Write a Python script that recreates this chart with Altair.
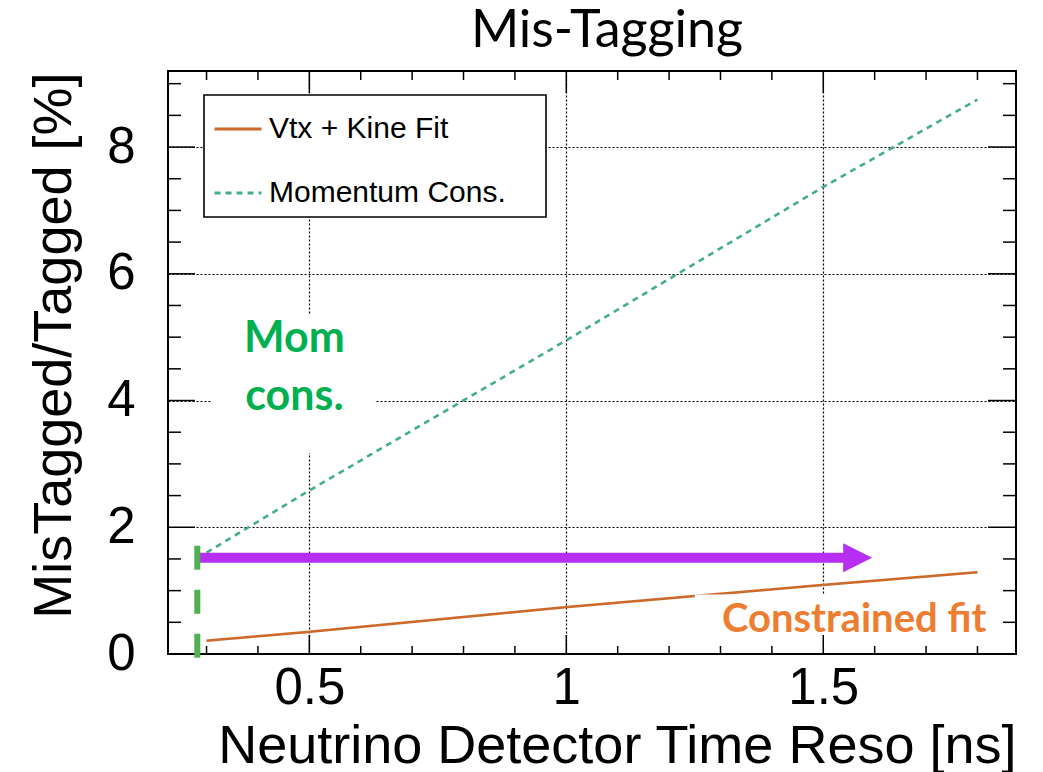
import altair as alt
import pandas as pd

# ---------------- data ----------------
reso_ns = [0.3, 0.5, 1.0, 1.5, 1.8]
vtx_kine_fit = [0.21, 0.35, 0.74, 1.09, 1.29]
momentum_cons = [1.60, 2.58, 4.95, 7.37, 8.75]
series_names = ["Vtx + Kine Fit", "Momentum Cons."]
chart_title = ["Mis-Tagging"]

x_major = [0.5, 1.0, 1.5]
x_minor = [0.3, 0.4, 0.6, 0.7, 0.8, 0.9, 1.1, 1.2, 1.3, 1.4, 1.6, 1.7, 1.8]
y_major = [0, 2, 4, 6, 8]
y_minor = [0.5, 1, 1.5, 2.5, 3, 3.5, 4.5, 5, 5.5, 6.5, 7, 7.5, 8.5, 9]

# annotations (data coordinates)
mom_text = ["Mom", "cons."]
mom_text_x = [0.471, 0.471]
mom_text_y = [4.77, 3.85]
fit_text = ["Constrained fit"]
fit_text_x = [1.56]
fit_text_y = [0.35]
box_x1 = [0.311, 1.25]
box_x2 = [0.627, 1.86]
box_y1 = [3.17, 0.12]
box_y2 = [5.36, 0.94]
arrow_x1 = [0.282]
arrow_x2 = [1.55]
arrow_head_x = [1.567]
arrow_y = [1.52]
cut_x = [0.282]
cut_y1 = [1.71]
cut_y2 = [-0.1]

W, H = 848, 583
ORANGE = "#CC6A2C"
TEAL = "#43AE8A"
PURPLE = "#B52EF2"
GREEN_TXT = "#00B050"
ORANGE_TXT = "#ED7D31"
GREEN_CUT = "#4FAF52"

xscale = alt.Scale(domain=[0.225, 1.875], nice=False, zero=False)
yscale = alt.Scale(domain=[0, 9.2], nice=False, zero=False)

x_axis = alt.Axis(
    values=x_major, format="~g", ticks=False, domain=False, grid=True,
    gridDash=[2, 2], gridColor="black", gridWidth=1.2, gridOpacity=1,
    labelFont="Liberation Sans", labelFontSize=51, labelColor="black",
    labelPadding=9, labelFlush=False,
    title="Neutrino Detector Time Reso [ns]", titleFont="Liberation Sans",
    titleFontSize=54, titleFontWeight="normal", titleColor="black",
    titleX=W, titleY=108, titleAlign="right", titleBaseline="alphabetic",
)
y_axis = alt.Axis(
    values=y_major, format="d", ticks=False, domain=False, grid=True,
    gridDash=[2, 2], gridColor="black", gridWidth=1.2, gridOpacity=1,
    labelFont="Liberation Sans", labelFontSize=51, labelColor="black",
    labelPadding=33, labelFlush=False,
    title="MisTagged/Tagged [%]", titleFont="Liberation Sans",
    titleFontSize=54, titleFontWeight="normal", titleColor="black",
    titleX=-98, titleY=1, titleAlign="right", titleAngle=-90,
    titleBaseline="alphabetic",
)


def X(f="x:Q"):
    return alt.X(f, scale=xscale, axis=x_axis)


def Y(f="y:Q"):
    return alt.Y(f, scale=yscale, axis=y_axis)


rows = []
for name, vals in zip(series_names, [vtx_kine_fit, momentum_cons]):
    for xv, yv in zip(reso_ns, vals):
        rows.append({"x": xv, "y": yv, "series": name})
df_lines = pd.DataFrame(rows)

leg = alt.Legend(
    orient="none", legendX=36, legendY=24, title=None,
    strokeColor="black", fillColor="white", padding=9, rowPadding=24,
    symbolType="stroke", symbolSize=2209, symbolStrokeWidth=3,
    labelFont="Liberation Sans", labelFontSize=30, labelColor="black",
    labelOffset=6, labelLimit=600,
    labelExpr="datum.label + '\u00a0\u2800'",
)

lines = alt.Chart(df_lines).mark_line(strokeWidth=2.6).encode(
    x=X(), y=Y(),
    color=alt.Color("series:N", scale=alt.Scale(domain=series_names, range=[ORANGE, TEAL]), legend=leg),
    strokeDash=alt.StrokeDash("series:N", scale=alt.Scale(domain=series_names, range=[[1, 0], [6, 5]]), legend=leg),
    order=alt.Order("x:Q"),
)

df_box = pd.DataFrame({"x": box_x1, "x2": box_x2, "y": box_y1, "y2": box_y2})
boxes = alt.Chart(df_box).mark_rect(fill="white").encode(
    x=X(), x2="x2:Q", y=Y(), y2="y2:Q",
)


def xticks(vals, length, top):
    d = pd.DataFrame({"x": vals})
    if top:
        yv, y2v = alt.value(0), alt.value(length)
    else:
        yv, y2v = alt.value(H), alt.value(H - length)
    return alt.Chart(d).mark_rule(color="black", strokeWidth=1.5).encode(
        x=X(), y=yv, y2=y2v)


def yticks(vals, length, right):
    d = pd.DataFrame({"y": vals})
    if right:
        xv, x2v = alt.value(W), alt.value(W - length)
    else:
        xv, x2v = alt.value(0), alt.value(length)
    return alt.Chart(d).mark_rule(color="black", strokeWidth=1.5).encode(
        y=Y(), x=xv, x2=x2v)


ticks = [
    xticks(x_major, 19, False), xticks(x_minor, 8, False),
    xticks(x_major, 22, True), xticks(x_minor, 9, True),
    yticks(y_major, 27, False), yticks(y_minor, 13, False),
    yticks(y_major, 28, True), yticks(y_minor, 13, True),
]

df_arrow = pd.DataFrame({"x": arrow_x1, "x2": arrow_x2, "y": arrow_y})
shaft = alt.Chart(df_arrow).mark_rule(color=PURPLE, strokeWidth=10).encode(
    x=X(), x2="x2:Q", y=Y(),
)
df_head = pd.DataFrame({"x": arrow_head_x, "y": arrow_y})
head = alt.Chart(df_head).mark_point(
    shape="M-1,-1L1,0L-1,1Z", filled=True, fill=PURPLE, size=841, opacity=1, strokeWidth=0
).encode(x=X(), y=Y())

df_cut = pd.DataFrame({"x": cut_x, "y": cut_y1, "y2": cut_y2})
cut = alt.Chart(df_cut).mark_rule(color=GREEN_CUT, strokeWidth=6, strokeDash=[24, 20]).encode(
    x=X(), y=Y(), y2="y2:Q",
)

df_mom = pd.DataFrame({"x": mom_text_x, "y": mom_text_y, "t": mom_text})
mom_lbl = alt.Chart(df_mom).mark_text(
    font="Lato", fontWeight="bold", fontSize=43, color=GREEN_TXT,
    align="center", baseline="alphabetic",
).encode(x=X(), y=Y(), text="t:N")

df_fit = pd.DataFrame({"x": fit_text_x, "y": fit_text_y, "t": fit_text})
fit_lbl = alt.Chart(df_fit).mark_text(
    font="Lato", fontWeight="bold", fontSize=40, color=ORANGE_TXT,
    align="center", baseline="alphabetic",
).encode(x=X(), y=Y(), text="t:N")

df_title = pd.DataFrame({"t": chart_title})
title_lbl = alt.Chart(df_title).mark_text(
    font="Lato", fontSize=52, color="black", align="center", baseline="alphabetic",
).encode(x=alt.value(W / 2 + 15), y=alt.value(-24), text="t:N")

chart = alt.layer(
    lines, boxes, *ticks, shaft, head, cut, mom_lbl, fit_lbl, title_lbl
).properties(
    width=W, height=H,
    padding={"left": 160, "top": 63, "right": 15, "bottom": 118},
    autosize=alt.AutoSizeParams(type="none"),
).configure_view(
    stroke="black", strokeWidth=2
).configure_legend(strokeWidth=1.6)

chart.save("out.html", embed_options={"renderer": "svg", "actions": False})
